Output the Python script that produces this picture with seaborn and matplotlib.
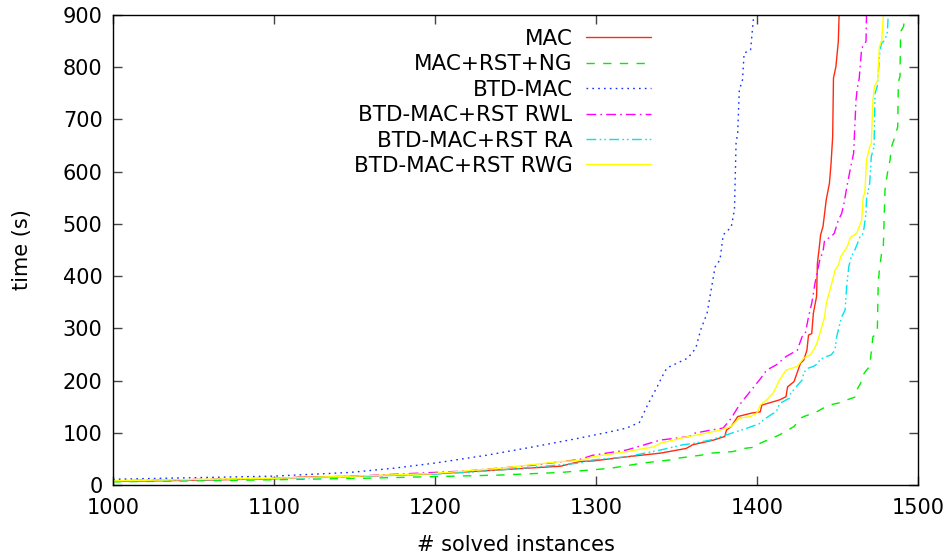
import numpy as np
import pandas as pd
import matplotlib
matplotlib.use("Agg")
import matplotlib.pyplot as plt
import seaborn as sns

# cactus data: (# solved, time)
mac_x = [1000, 1050, 1100, 1116, 1157, 1203, 1240, 1278, 1290, 1298, 1319, 1340, 1356, 1360, 1373, 1380,
         1381, 1384, 1388, 1397, 1402, 1403, 1414, 1418, 1419, 1423, 1427, 1429, 1431, 1432, 1434, 1435,
         1437, 1437.5, 1438.5, 1439.5, 1441, 1443, 1445, 1446, 1447, 1447.5, 1449, 1450.5, 1451]
mac_y = [7, 9, 12, 15, 17, 22, 29, 36, 45, 46, 54, 61, 70, 77, 86, 93,
         105, 112, 131, 138, 140, 153, 163, 169, 188, 198, 233, 239, 258, 287, 290, 329,
         361, 424, 450, 479, 495, 546, 578, 616, 667, 779, 801, 849, 900]

ng_x = [1000, 1100, 1157, 1199, 1240, 1278, 1309, 1329, 1346, 1350, 1365, 1371, 1385, 1392, 1400, 1402,
        1414, 1423, 1427, 1429, 1437, 1441, 1445, 1452, 1456, 1461.5, 1462, 1464.4, 1465, 1468, 1470,
        1472, 1474.7, 1475.3, 1476, 1477.4, 1478.4, 1479.5, 1481, 1482.6, 1483.6, 1485.7, 1487.4, 1487.8,
        1488.8, 1489.2, 1491, 1492]
ng_y = [6, 10, 13, 16, 19, 24, 32, 42, 48, 51, 57, 61, 64, 70, 73, 80,
        96, 112, 128, 131, 140, 147, 153, 158, 163, 169, 182, 195, 207, 220, 227,
        284, 290, 386, 412, 444, 450, 565, 597, 622, 648, 667, 686, 772,
        782, 868, 878, 900]

btd_x = [1000, 1050, 1100, 1147, 1174, 1200, 1232, 1261, 1290, 1309, 1319, 1327, 1332, 1338, 1341, 1344,
         1357, 1362, 1365, 1369, 1374, 1377, 1379, 1384, 1386, 1387, 1388, 1389, 1391, 1392, 1396, 1398]
btd_y = [11, 14, 17, 24, 32, 42, 57, 73, 90, 102, 109, 120, 153, 188, 207, 224,
         243, 262, 297, 329, 418, 431, 479, 494, 527, 655, 674, 756, 776, 827, 833, 900]

rwl_x = [1000, 1100, 1150, 1199, 1220, 1261, 1290, 1298, 1319, 1340, 1358, 1361, 1371, 1379, 1384, 1389,
         1396, 1402, 1406, 1412, 1418, 1425, 1428, 1430, 1432, 1434, 1436, 1439, 1441, 1442, 1446, 1448,
         1450.5, 1452.6, 1454, 1456, 1458, 1460, 1461.5, 1462.3, 1463.5, 1465, 1467.7, 1468]
rwl_y = [8, 13, 17, 24, 27, 38, 49, 57, 67, 86, 93, 99, 105, 109, 128, 153,
         180, 203, 220, 230, 246, 258, 284, 290, 322, 348, 386, 431, 447, 469, 475, 482,
         507, 520, 539, 574, 606, 635, 737, 760, 779, 836, 849, 900]

ra_x = [1000, 1100, 1150, 1200, 1220, 1261, 1290, 1298, 1319, 1340, 1354, 1361, 1371, 1381, 1394, 1402,
        1404, 1410, 1412, 1414, 1420, 1421, 1428, 1429, 1431, 1435, 1438, 1439, 1443, 1446, 1448.4, 1449.5,
        1451, 1452.6, 1454.7, 1455.7, 1457, 1458.8, 1460, 1464, 1466, 1467.7, 1468, 1470, 1471, 1472.7,
        1473.3, 1474.7, 1476.4, 1477.4, 1479.5, 1481, 1481.5]
ra_y = [8, 12, 16, 21, 24, 34, 42, 48, 54, 67, 77, 80, 86, 96, 109, 118,
        125, 137, 140, 156, 166, 176, 201, 214, 223, 227, 233, 240, 246, 249, 258, 284,
        303, 322, 335, 380, 418, 440, 444, 475, 482, 520, 546, 578, 629, 648,
        750, 763, 833, 846, 852, 868, 900]

rwg_x = [1000, 1100, 1150, 1199, 1240, 1278, 1290, 1298, 1319, 1336, 1340, 1356, 1365, 1377, 1384, 1389,
         1396, 1400, 1402, 1406, 1410, 1414, 1418, 1425, 1429, 1433, 1435, 1437, 1439, 1442, 1443, 1445,
         1447, 1448.5, 1450.5, 1452, 1454, 1456, 1458, 1462, 1463.5, 1465, 1466, 1467, 1468, 1469, 1470,
         1471, 1472, 1473, 1475, 1476, 1477.5, 1478.5]
rwg_y = [8, 13, 17, 22, 32, 45, 47, 54, 64, 73, 80, 92, 97, 105, 112, 128,
         131, 138, 153, 163, 176, 201, 220, 227, 243, 249, 258, 270, 290, 322, 348, 370,
         393, 412, 421, 437, 447, 456, 474, 482, 495, 507, 552, 559, 622, 635, 648,
         654, 737, 763, 776, 839, 852, 900]

labels = ["MAC", "MAC+RST+NG", "BTD-MAC", "BTD-MAC+RST RWL", "BTD-MAC+RST RA", "BTD-MAC+RST RWG"]
xs = [mac_x, ng_x, btd_x, rwl_x, ra_x, rwg_x]
ys = [mac_y, ng_y, btd_y, rwl_y, ra_y, rwg_y]
colors = ["#ff2a10", "#00ee00", "#1030ff", "#ff00ff", "#00e5ee", "#ffff00"]
styles = ["-", (0, (6, 6)), (0, (1.2, 3)), (0, (7, 3, 1.2, 3)), (0, (7, 2.5, 1.2, 2, 1.2, 2.5)), "-"]

sns.set_theme(style="ticks")
plt.rcParams["font.family"] = ["DejaVu Sans"]
plt.rcParams["text.color"] = "black"
plt.rcParams["axes.labelcolor"] = "black"

FS = 15

fig = plt.figure(figsize=(9.51, 5.58), dpi=100)
ax = fig.add_axes([113 / 951, 73 / 558, 805 / 951, 470 / 558])

for lab, x, y, c, ls in zip(labels, xs, ys, colors, styles):
    df = pd.DataFrame({"solved": x, "time": y})
    sns.lineplot(data=df, x="solved", y="time", ax=ax, color=c, linestyle=ls,
                 linewidth=1.0, label=lab, sort=False, estimator=None)

ax.set_xlim(1000, 1500)
ax.set_ylim(0, 900)
ax.set_xticks(np.arange(1000, 1501, 100))
ax.set_yticks(np.arange(0, 901, 100))
ax.tick_params(direction="in", length=6.5, width=1, color="#444444", top=True, right=True,
               labelsize=FS, labelcolor="black")
ax.tick_params(axis="x", pad=9.5)
ax.tick_params(axis="y", pad=7.5)
for s in ax.spines.values():
    s.set_color("black")
    s.set_linewidth(1.0)
ax.set_xlabel("# solved instances", fontsize=FS, labelpad=12)
ax.set_ylabel("time (s)", fontsize=FS, labelpad=22)

ax.legend(loc="upper right", bbox_to_anchor=(651 / 951, 1 - 29 / 558), bbox_transform=fig.transFigure,
          frameon=False, markerfirst=False, fontsize=15.5, handlelength=3.0, handletextpad=0.65,
          labelspacing=0.25, borderpad=0, borderaxespad=0)

fig.savefig("out.png", dpi=100)
